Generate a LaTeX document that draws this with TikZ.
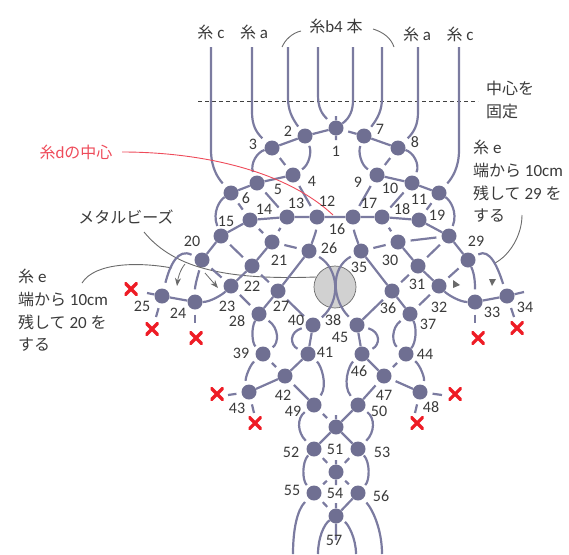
\documentclass[tikz,border=0pt]{standalone}
\usepackage{fontspec}
\setmainfont[Numbers=Lining]{Carlito}
\newfontfamily\jp[Scale=0.94]{Noto Sans CJK JP}
\definecolor{thr}{HTML}{7B7BA0}
\definecolor{knotc}{HTML}{6F6F92}
\definecolor{txt}{HTML}{3A3A3A}
\definecolor{redl}{HTML}{EE4B5A}
\definecolor{redx}{HTML}{EE1C25}
\definecolor{lead}{HTML}{6A6A6A}
\usetikzlibrary{arrows.meta}
\tikzset{
  thread/.style={draw=thr,line width=2.2pt},
  under/.style={thread,shorten <=5pt,shorten >=5pt},
  arcgap/.style={thread,shorten >=4pt,shorten <=4pt},
  knot/.style={circle,fill=knotc,inner sep=0pt,minimum size=15pt},
  num/.style={text=txt,font=\fontsize{16}{16}\selectfont,inner sep=0pt},
  lab/.style={text=txt,font=\fontsize{17}{22.7}\selectfont,inner sep=0pt,align=left},
  leader/.style={draw=lead,line width=0.9pt},
  crossx/.style={text=redx,font=\fontsize{1}{1}\selectfont,inner sep=0pt,minimum size=13pt,
    path picture={\draw[redx,line width=3.2pt] (path picture bounding box.north west)--(path picture bounding box.south east)
      (path picture bounding box.north east)--(path picture bounding box.south west);}},
}
\begin{document}
\begin{tikzpicture}[x=1pt,y=-1pt]
\useasboundingbox (0,0) rectangle (569,554);
% bead
\node[circle,fill=black!18,draw=lead,line width=0.7pt,minimum size=42pt,inner sep=0pt] (bead) at (335,287) {};
% knots
\foreach \n/\x/\y in {1/336/128,2/305/136,3/272/148,4/293/175,5/257/183,6/231/193,7/364/136,8/398/148,9/377/175,10/412/183,11/439/193,
 12/317/217,13/287/217,14/250/220,15/221/236,16/353/217,17/382/217,18/419/220,19/449/236,20/202/260,21/272/242,22/252/266,23/231/286,
 24/195/302,25/162/296,26/309/251,27/278/291,28/259/314,29/468/260,30/398/242,31/418/266,32/439/286,33/475/302,34/507/296,35/361/251,
 36/392/291,37/410/314,38/313/325,45/357/325,39/263/354,41/308/354,46/362/354,44/406/354,42/285/376,47/384/376,43/249/392,48/420/392,
 49/314/405,50/358/405,51/336/427,52/314/449,53/358/449,54/336/472,55/314/493,56/358/493,57/336/516}
 {\node[knot] (n\n) at (\x,\y) {};}
% free ends
\foreach \n/\x/\y in {tc1/211/47,ta1/252/47,tb1/288/47,tb2/318/47,tb3/353/47,tb4/382/47,ta2/418/47,tc2/459/47,
 t1a/336/116,t1b/336/140,e25l/147/293,e25b/156/317,e24b/195/323,e33b/475/323,e34b/514/317,e34r/524/292,
 e43l/228/395,e43b/254/413,e48r/442/395,e48b/415/413,t51/336/415,t54a/336/460,t54b/336/485,t57a/336/503,t57b/336/540,
 b55/293/554,b57l/318/554,b57r/356/554,b56/382/554,
 dl/198/101,dr/478/101,br1a/282/47,br1b/301/31,br2a/373/29,br2b/394/47,
 rs/122/152,re/333/215,ml/144/232,mb/316/277,el/82/283,ee/172/268,er/522/215,ere/495/263,
 ar1a/185/264,ar1b/177/286,ar2a/205/273,ar2b/218/288}
 {\coordinate (\n) at (\x,\y);}
% leaders (under threads)
\draw[leader] (ml) .. controls (175,270) and (230,280) .. (mb);
\draw[leader] (el) .. controls (95,262) and (140,262) .. (ee);
\draw[leader] (er) .. controls (522,235) and (510,255) .. (ere);
\draw[leader] (br1a) .. controls (285,40) and (292,33) .. (br1b);
\draw[leader] (br2a) .. controls (383,32) and (391,38) .. (br2b);
\draw[black!75,line width=0.7pt,dash pattern=on 4pt off 3pt] (dl) -- (dr);
% top strands
\draw[thread,shorten >=5pt] (tc1) -- (211,150) .. controls (211,168) and (218,178) .. (n6);
\draw[thread,shorten >=6pt] (ta1) -- (252,112) .. controls (252,125) and (256,132) .. (n3);
\draw[thread,shorten >=4pt] (tb1) -- (288,98) .. controls (288,110) and (292,118) .. (n2);
\draw[thread,shorten >=5pt] (tb2) -- (318,95) .. controls (318,108) and (322,114) .. (n1);
\draw[thread] (tb3) -- (353,100) .. controls (353,110) and (350,118) .. (n1);
\draw[thread,shorten >=4pt] (tb4) -- (382,98) .. controls (382,110) and (378,118) .. (n7);
\draw[thread,shorten >=6pt] (ta2) -- (418,112) .. controls (418,125) and (414,132) .. (n8);
\draw[thread,shorten >=5pt] (tc2) -- (459,150) .. controls (459,168) and (452,178) .. (n11);
% connected strands
\draw[thread] (n3)--(n2) (n2)--(n1) (n7)--(n8) (n6)--(n5) (n5)--(n4) (n9)--(n10) (n10)--(n11)
 (n20)--(n15) (n15)--(n14) (n14)--(n13) (n13)--(n12) (n12)--(n16) (n16)--(n17) (n17)--(n18) (n18)--(n19) (n19)--(n29)
 (n21)--(n22) (n22)--(n23) (n30)--(n31) (n31)--(n32) (n25)--(n24) (n33)--(n34)
 (n26)--(n27) (n27)--(n28) (n35)--(n36) (n36)--(n37) (n38)--(n41) (n45)--(n46)
 (n41)--(n42) (n42)--(n43) (n46)--(n47)
 (n50)--(n51) (n51)--(n52) (n51)--(n53) (n56)--(n57)
 (n25)--(e25l) (n34)--(e34r) (n1)--(t1a) (n1)--(t1b) (n51)--(t51) (n54)--(t54a) (n54)--(t54b) (n57)--(t57a) (n57)--(t57b);
\draw[thread] (n24) .. controls (210,302) and (222,295) .. (n23);
\draw[thread] (n33) .. controls (460,302) and (448,295) .. (n32);
\draw[thread,shorten <=5pt] (n1)--(n7);
% gaps at one end
\draw[thread,shorten <=5pt] (n42)--(n49);
\draw[thread,shorten <=5pt] (n47)--(n50);
\draw[thread,shorten <=5pt] (n47)--(n48);
\draw[thread,shorten <=5pt] (n36)--(n45);
\draw[thread,shorten <=5pt] (n43)--(e43l);
\draw[thread,shorten <=5pt] (n48)--(e48r);
% under segments
\foreach \a/\b in {3/4,4/12,5/13,6/14,8/9,9/16,10/17,11/18,14/21,13/21,15/22,20/23,21/26,22/27,23/28,27/38,
  17/30,19/30,30/35,19/31,29/32,31/36,32/37,39/42,44/47,49/51,52/54,53/54,54/55,54/56,55/57}
  {\draw[under] (n\a)--(n\b);}
% tails
\draw[thread,shorten <=5pt] (n25)--(e25b);
\draw[thread,shorten <=5pt] (n24)--(e24b);
\draw[thread,shorten <=5pt] (n33)--(e33b);
\draw[thread,shorten <=5pt] (n34)--(e34b);
\draw[thread,shorten <=5pt] (n43)--(e43b);
\draw[thread,shorten <=5pt] (n48)--(e48b);
% arcs
\draw[thread,shorten >=4pt] (n3) .. controls (257,152) and (250,164) .. (n5);
\draw[thread,shorten >=4pt] (n8) .. controls (413,152) and (420,164) .. (n10);
\draw[thread,shorten <=3pt,shorten >=3pt] (n2) .. controls (312,152) and (309,165) .. (n4);
\draw[thread,shorten <=3pt,shorten >=3pt] (n7) .. controls (358,152) and (361,165) .. (n9);
\draw[thread,shorten >=3pt] (n6) .. controls (220,200) and (212,212) .. (n15);
\draw[thread,shorten >=3pt] (n11) .. controls (450,200) and (458,212) .. (n19);
\draw[thread,shorten <=5pt] (n12) .. controls (316,232) and (313,240) .. (n26);
\draw[thread,shorten <=5pt] (n16) .. controls (354,232) and (357,240) .. (n35);
\draw[thread,shorten <=3pt,shorten >=5pt] (n20) .. controls (198,275) and (195,285) .. (n24);
\draw[thread,shorten <=4pt,shorten >=6pt] (n20) .. controls (178,248) and (170,265) .. (n25);
\draw[thread,shorten >=5pt] (n29) .. controls (475,275) and (475,285) .. (n33);
\draw[thread,shorten <=4pt,shorten >=5pt] (n29) .. controls (490,248) and (498,268) .. (n34);
\draw[thread,shorten <=4pt,shorten >=4pt] (n26) .. controls (338,268) and (342,300) .. (n38);
\draw[thread,shorten <=4pt,shorten >=4pt] (n35) .. controls (330,268) and (332,300) .. (n45);
\draw[thread,shorten <=4pt,shorten >=4pt] (n38) .. controls (289,332) and (290,345) .. (n41);
\draw[thread,shorten <=4pt,shorten >=4pt] (n45) .. controls (381,332) and (380,345) .. (n46);
\draw[thread,shorten >=3pt] (n28) .. controls (251,328) and (252,343) .. (n39);
\draw[arcgap] (n28) .. controls (279,328) and (279,343) .. (n39);
\draw[thread] (n37) .. controls (417,328) and (416,343) .. (n44);
\draw[arcgap] (n37) .. controls (391,328) and (392,343) .. (n44);
\draw[arcgap] (n39) .. controls (250,365) and (245,378) .. (n43);
\draw[arcgap] (n44) .. controls (420,365) and (425,378) .. (n48);
\draw[arcgap] (n41) .. controls (321,365) and (328,385) .. (n49);
\draw[arcgap] (n46) .. controls (349,365) and (342,385) .. (n50);
\draw[arcgap] (n49) .. controls (297,418) and (297,432) .. (n52);
\draw[arcgap] (n50) .. controls (375,418) and (375,432) .. (n53);
\draw[thread,shorten <=1pt,shorten >=3pt] (n52) .. controls (302,462) and (302,480) .. (n55);
\draw[thread,shorten <=1pt,shorten >=3pt] (n53) .. controls (370,462) and (370,480) .. (n56);
\draw[thread,shorten <=5pt] (n55) .. controls (297,510) and (293,530) .. (b55);
\draw[thread,shorten <=5pt] (n56) .. controls (373,510) and (382,530) .. (b56);
\draw[thread] (n57) .. controls (324,524) and (318,538) .. (b57l);
\draw[thread,shorten <=3pt] (n57) .. controls (348,524) and (356,538) .. (b57r);
% little arrows
\draw[lead,line width=0.8pt,-{Stealth[length=8pt,width=6pt]}] (ar1a) .. controls (180,270) and (178,278) .. (ar1b);
\draw[lead,line width=0.8pt,-{Stealth[length=8pt,width=6pt]}] (ar2a) -- (ar2b);
\fill[lead] (453,280) -- (460,285) -- (453,288) -- cycle;
\fill[lead] (489,279) -- (496,279) -- (492,286) -- cycle;
% red
\draw[redl,line width=0.9pt] (rs) .. controls (200,152) and (285,170) .. (re);
\node[crossx] (x1) at (131,289) {};
\node[crossx] (x2) at (152,329) {};
\node[crossx] (x3) at (196,338) {};
\node[crossx] (x4) at (478,338) {};
\node[crossx] (x5) at (517,328) {};
\node[crossx] (x6) at (217,394) {};
\node[crossx] (x7) at (255,423) {};
\node[crossx] (x8) at (455,394) {};
\node[crossx] (x9) at (417,423) {};
% numbers
\foreach \n/\x/\y in {1/336/151,2/288/131,3/253/144,4/312/181,5/278/189,6/246/198,7/380/129,8/415/142,9/358/182,10/390/188,11/419/199,
 12/327/201,13/296/203,14/264/209,15/226/221,16/337/229,17/369/203,18/402/209,19/437/215,20/192/241,21/279/260,22/252/286,23/227/306,
 24/178/313,25/142/306,26/329/248,27/281/306,28/237/321,29/476/241,30/390/260,31/417/284,32/439/307,33/492/312,34/525/307,35/359/267,
 36/388/308,37/428/324,38/333/320,40/296/320,39/241/353,41/325/352,44/425/354,45/340/337,46/359/371,42/283/395,47/384/395,43/237/408,
 48/431/407,49/293/411,50/379/411,51/335/449,52/291/452,53/382/452,54/335/493,55/292/490,56/381/496,57/334/540}
 {\node[num] (l\n) at (\x,\y) {\n};}
% labels
\node[lab] (lc1) at (211,32) {{\jp 糸} c};
\node[lab] (la1) at (254,32) {{\jp 糸} a};
\node[lab] (lb) at (336,26) {{\jp 糸}b4 {\jp 本}};
\node[lab] (la2) at (417,34) {{\jp 糸} a};
\node[lab] (lc2) at (460,34) {{\jp 糸} c};
\node[lab,anchor=north west] (lfix) at (486,81) {\jp 中心を\\\jp 固定};
\node[lab,anchor=north west] (lr) at (473,140) {{\jp 糸} e\\{\jp 端から} 10cm\\{\jp 残して} 29 {\jp を}\\\jp する};
\node[lab,anchor=north west] (ll) at (18,269) {{\jp 糸} e\\{\jp 端から} 10cm\\{\jp 残して} 20 {\jp を}\\\jp する};
\node[lab] (lm) at (126,217) {\jp メタルビーズ};
\node[lab,text=redl] (ld) at (76,152) {{\jp 糸}d{\jp の中心}};
\end{tikzpicture}
\end{document}
